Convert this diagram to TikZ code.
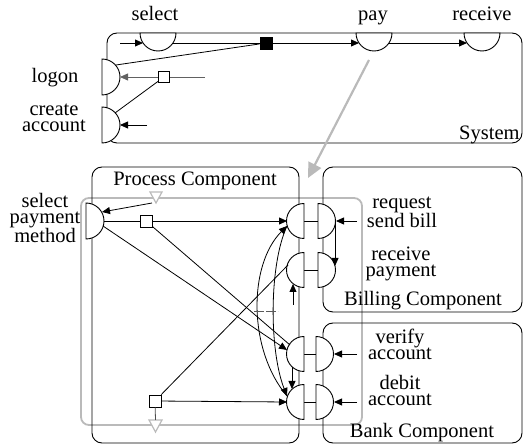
\documentclass[tikz,border=0pt]{standalone}
\usepackage{fontspec}
\setmainfont{Liberation Serif}
\usetikzlibrary{arrows.meta}
\begin{document}
\begin{tikzpicture}[x=1pt,y=-1pt,
  line width=0.8pt,
  box/.style={draw, rounded corners=10pt, line width=0.9pt},
  grayrect/.style={draw=black!27, rounded corners=8pt, line width=1.8pt},
  port/.style={draw, fill=white, line width=0.9pt},
  arr/.style={-{Triangle[length=8pt,width=7pt]}},
  wsq/.style={draw, fill=white, minimum size=12pt, inner sep=0pt, line width=0.8pt},
  bsq/.style={draw, fill=black, minimum size=12pt, inner sep=0pt},
  lbl/.style={font=\fontsize{20.5}{16.3}\selectfont, inner sep=0pt, align=center},
  dg/.style={draw=black!62},
  tri/.style={draw=black!27, fill=white, line width=1.2pt},
  bigarr/.style={draw=black!27, line width=2.2pt, -{Triangle[length=15pt,width=14pt]}},
]
\useasboundingbox (0,0) rectangle (523,446);

% ---------- containers ----------
\draw[grayrect] (81,198) rectangle (362,425);
\draw[box] (107,33) rectangle (522,143);
\draw[box] (92,167) rectangle (299,443);
\draw[box] (323,167) rectangle (522,312);
\draw[box] (323,323) rectangle (522,443);

% ---------- gray triangles ----------
\draw[tri] (150,192) -- (162,192) -- (156,203) -- cycle;
\draw[tri] (149,420) -- (162,420) -- (155.5,432) -- cycle;
\coordinate (triA) at (152,203);
\coordinate (triB) at (155.5,420);

% ---------- port centres ----------
\coordinate (L1) at (304,221); \coordinate (R1) at (318,221);
\coordinate (L2) at (304,270); \coordinate (R2) at (318,270);
\coordinate (L3) at (304,354); \coordinate (R3) at (316,354);
\coordinate (L4) at (304,402); \coordinate (R4) at (316,402);
\draw (L1) -- (R1);
\draw (L2) -- (R2);
\draw (L3) -- (R3);
\draw (L4) -- (R4);

% ---------- ports (half discs) ----------
\draw[port] (140,33) arc[start angle=180,end angle=0,radius=18] -- cycle;   % select
\draw[port] (356,33) arc[start angle=180,end angle=0,radius=18] -- cycle;   % pay
\draw[port] (464,33) arc[start angle=180,end angle=0,radius=18] -- cycle;   % receive
\draw[port] (102,59) arc[start angle=-90,end angle=90,radius=18] -- cycle;  % logon
\draw[port] (102,107) arc[start angle=-90,end angle=90,radius=18] -- cycle; % create account
\draw[port] (86,203) arc[start angle=-90,end angle=90,radius=18] -- cycle;  % select payment method
\draw[port] (304,203.5) arc[start angle=270,end angle=90,radius=17.5] -- cycle;
\draw[port] (304,252.5) arc[start angle=270,end angle=90,radius=17.5] -- cycle;
\draw[port] (304,336.5) arc[start angle=270,end angle=90,radius=17.5] -- cycle;
\draw[port] (304,384.5) arc[start angle=270,end angle=90,radius=17.5] -- cycle;
\draw[port] (318,203.5) arc[start angle=-90,end angle=90,radius=17.5] -- cycle;
\draw[port] (318,252.5) arc[start angle=-90,end angle=90,radius=17.5] -- cycle;
\draw[port] (316,336.5) arc[start angle=-90,end angle=90,radius=17.5] -- cycle;
\draw[port] (316,384.5) arc[start angle=-90,end angle=90,radius=17.5] -- cycle;

% ---------- top connectors ----------
\coordinate (selSrc) at (120,43);
\coordinate (selW) at (143,43);
\coordinate (selE) at (173,43);
\coordinate (payW) at (359,43);
\coordinate (payE) at (389,43);
\coordinate (rcvW) at (467,43);
\coordinate (logNE) at (116,65);
\coordinate (logE) at (120,77);
\coordinate (logSrc) at (205,77);
\coordinate (crNE) at (115,113);
\coordinate (crE) at (120,125);
\coordinate (crSrc) at (147,125);
\coordinate (payS) at (369,60);
\coordinate (procIn) at (308,178);

\node[bsq] (bsq) at (266,43) {};
\node[wsq, minimum size=11pt] (wsqA) at (164,77) {};

\draw[arr] (selSrc) -- (selW);
\draw (selE) -- (bsq);
\draw[arr] (bsq) -- (payW);
\draw[arr] (payE) -- (rcvW);
\draw (logNE) -- (bsq);
\draw[dg] (logSrc) -- (wsqA);
\draw[dg, arr] (wsqA) -- (logE);
\draw (wsqA) -- (crNE);
\draw[arr] (crSrc) -- (crE);
\draw[bigarr] (payS) -- (procIn);

% ---------- bottom connectors ----------
\coordinate (spmE) at (104,221);
\coordinate (spmSE) at (103,226);
\coordinate (spmNE) at (102,212);
\coordinate (L1W) at (287,221);
\coordinate (L1SW) at (287,226);
\coordinate (L2SW) at (288,265);
\coordinate (L2S) at (293,284);
\coordinate (L2Src) at (293,305);
\coordinate (L3NWa) at (287,350);
\coordinate (L3NWb) at (290,345);
\coordinate (L3S) at (292,367);
\coordinate (L4N) at (292,389);
\coordinate (L4NW) at (287,396);
\coordinate (L4W) at (287,402);
\coordinate (R1E) at (336,221);
\coordinate (R1Src) at (357,221);
\coordinate (R1S) at (335,221);
\coordinate (R2E) at (335,266);
\coordinate (R3E) at (334,354);
\coordinate (R3Src) at (357,354);
\coordinate (R4E) at (334,402);
\coordinate (R4Src) at (357,402);
\coordinate (cutA) at (254,311);
\coordinate (cutB) at (278,311);

\node[wsq] (wsqB) at (146,221) {};
\node[wsq] (wsqC) at (155,401) {};

\draw[arr] (triA) -- (spmNE);
\draw (spmE) -- (wsqB);
\draw[arr] (wsqB) -- (L1W);
\draw[arr] (spmSE) -- (L3NWa);
\draw (wsqB) -- (L3NWb);
\draw (wsqC) -- (L2SW);
\draw[arr] (wsqC) -- (L4W);
\draw[draw=black!70] (wsqC) -- (triB);
\draw[arr] (L4NW) .. controls (248,350) and (248,265) .. (L1SW);
\draw[arr] (L1SW) .. controls (269,265) and (269,350) .. (L4NW);
\draw[draw=black!65, dash pattern=on 10pt off 2pt] (cutA) -- (cutB);
\draw[arr] (L2Src) -- (L2S);
\draw[arr] (L3S) -- (L4N);
\draw[arr] (R1Src) -- (R1E);
\draw[arr] (R1S) -- (R2E);
\draw[arr] (R3Src) -- (R3E);
\draw[arr] (R4Src) -- (R4E);

% ---------- labels (base = baseline of last line) ----------
\node[lbl, anchor=base] (tSelect) at (155,21) {select};
\node[lbl, anchor=base] (tPay) at (373,21) {pay};
\node[lbl, anchor=base] (tReceive) at (482,21) {receive};
\node[lbl, anchor=base east] (tSystem) at (520,140) {System};
\node[lbl, anchor=base] (tLogon) at (55,83) {logon};
\node[lbl, anchor=base] (tCreate) at (54,132) {create\\account};
\node[lbl, anchor=base] (tProc) at (195,186) {Process Component};
\node[lbl, anchor=base] (tSpm) at (45,243) {select\\payment\\method};
\node[lbl, anchor=base] (tReq) at (402,228) {request\\send bill};
\node[lbl, anchor=base] (tRecv) at (401,277) {receive\\payment};
\node[lbl, anchor=base] (tBill) at (423,306) {Billing Component};
\node[lbl, anchor=base] (tVer) at (400,360) {verify\\account};
\node[lbl, anchor=base] (tDeb) at (400,406) {debit\\account};
\node[lbl, anchor=base] (tBank) at (422,438) {Bank Component};
\end{tikzpicture}
\end{document}
